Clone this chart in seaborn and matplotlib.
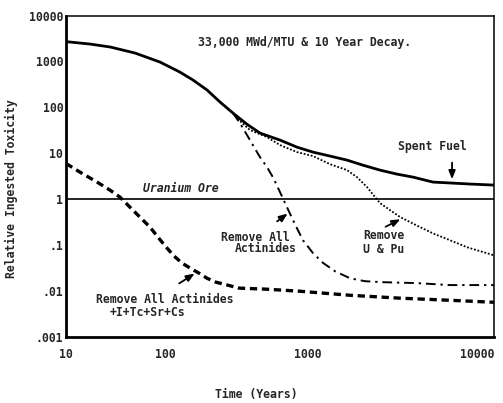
import numpy as np
import seaborn as sns
import matplotlib.pyplot as plt
from matplotlib.ticker import FixedLocator, NullLocator

# values (years, relative ingested toxicity)
spent_t = [10, 17.5, 28, 49.8, 89, 127, 157, 197, 243, 299, 374, 462, 637, 838, 1064, 1313,
           1622, 1977, 2439, 3006, 3669, 4700, 6020, 7430, 10000]
spent_v = [2700, 2390, 2060, 1524, 970, 587, 394, 238, 130, 75, 43, 27.5, 19.4, 13.6, 10.6, 8.7,
           7.1, 5.5, 4.3, 3.52, 3.03, 2.36, 2.24, 2.14, 2.03]

upu_t = [299, 318, 393, 517, 637, 838, 1064, 1313, 1622, 1833, 2076, 2439, 2760, 3126, 3810,
         4700, 5800, 7160, 10000]
upu_v = [75, 58, 32, 22.5, 15.1, 10.6, 8.7, 5.8, 4.3, 3.03, 1.84, 0.82, 0.58, 0.41, 0.273,
         0.18, 0.128, 0.090, 0.060]

act_t = [299, 334, 393, 461, 517, 569, 637, 713, 811, 922, 1064, 1205, 1397, 1683, 2023, 2530,
         3855, 5800, 10000]
act_v = [75, 45.5, 19.4, 8.3, 5.0, 3.0, 1.43, 0.67, 0.286, 0.128, 0.067, 0.041, 0.027, 0.019,
         0.0164, 0.0156, 0.0149, 0.0135, 0.0135]

fp_t = [10, 13.8, 20.6, 27.8, 35.1, 42.3, 53.3, 70.5, 85, 102, 116, 131, 150, 173, 197, 227,
        259, 329, 508, 865, 1683, 3126, 5800, 10000]
fp_v = [6.0, 3.9, 2.36, 1.58, 1.11, 0.74, 0.45, 0.247, 0.149, 0.090, 0.0575, 0.041, 0.0316,
        0.0245, 0.019, 0.0156, 0.0141, 0.0116, 0.011, 0.00995, 0.0081, 0.0070, 0.0063, 0.0057]

ore_t = [10, 10000]
ore_v = [1, 1]

x_ticks = [10, 100, 1000, 10000]
x_labels = ['10', '100', '1000', '10000']
y_ticks = [1e4, 1e3, 1e2, 10, 1, 0.1, 0.01, 0.001]
y_labels = ['10000', '1000', '100', '10', '1', '.1', '.01', '.001']

# the printed time axis has uneven decades, so map log10(t) piecewise
knots_log = [0, 1, 2, 3, 4, 6]
knots_pos = [-0.2313, 0, 0.2313, 0.5654, 1.0, 1.8692]


def fwd(x):
    x = np.clip(np.asarray(x, dtype=float), 1e-9, None)
    return np.interp(np.log10(x), knots_log, knots_pos)


def inv(u):
    return 10 ** np.interp(np.asarray(u, dtype=float), knots_pos, knots_log)


sns.set_style('white')
plt.rcParams['font.family'] = ['DejaVu Sans Mono', 'DejaVu Sans']
plt.rcParams['font.weight'] = 'bold'

fig = plt.figure(figsize=(5.03, 4.03), dpi=100)
ax = fig.add_axes([0.1312, 0.1638, 0.8509, 0.7977])
ax.set_xscale('function', functions=(fwd, inv))
ax.set_yscale('log')

sns.lineplot(x=spent_t, y=spent_v, ax=ax, color='black', lw=2.0)
sns.lineplot(x=upu_t, y=upu_v, ax=ax, color='black', lw=1.3, linestyle=(0, (1, 1)))
sns.lineplot(x=act_t, y=act_v, ax=ax, color='black', lw=1.4, linestyle=(0, (5, 2.5, 1.2, 2.5)))
sns.lineplot(x=fp_t, y=fp_v, ax=ax, color='black', lw=2.4, linestyle=(0, (2.2, 1.4)))
sns.lineplot(x=ore_t, y=ore_v, ax=ax, color='black', lw=1.2)

ax.set_xlim(10, 10000)
ax.set_ylim(0.001, 10000)
ax.xaxis.set_major_locator(FixedLocator(x_ticks))
ax.set_xticklabels(x_labels)
ax.get_xticklabels()[-1].set_ha('right')
ax.xaxis.set_minor_locator(FixedLocator([200, 1700, 6000]))
ax.yaxis.set_major_locator(FixedLocator(y_ticks))
ax.set_yticklabels(y_labels)
ax.yaxis.set_minor_locator(NullLocator())
ax.tick_params(axis='both', which='both', direction='in', length=4, width=1.3,
               labelsize=8.3, color='black')
ax.tick_params(axis='x', pad=8)
ax.tick_params(axis='y', pad=2)

for side in ['left', 'bottom']:
    ax.spines[side].set_linewidth(2.0)
for side in ['top', 'right']:
    ax.spines[side].set_linewidth(1.1)
for s in ax.spines.values():
    s.set_color('black')

ax.set_xlabel('Time (Years)', fontsize=8.3, fontweight='bold')
ax.xaxis.set_label_coords(0.444, -0.159)
ax.set_ylabel('Relative Ingested Toxicity', fontsize=8.3, fontweight='bold')
ax.yaxis.set_label_coords(-0.113, 0.462)

tkw = dict(transform=ax.transAxes, fontsize=8.3, fontweight='bold', va='center')
ax.text(0.558, 0.917, '33,000 MWd/MTU & 10 Year Decay.', ha='center', **tkw)
ax.text(0.855, 0.591, 'Spent Fuel', ha='center', **tkw)
ax.text(0.269, 0.463, 'Uranium Ore', ha='center', style='italic', **tkw)
ax.text(0.4416, 0.311, 'Remove All', ha='center', **tkw)
ax.text(0.4673, 0.274, 'Actinides', ha='center', **tkw)
ax.text(0.694, 0.317, 'Remove', ha='left', **tkw)
ax.text(0.694, 0.271, 'U & Pu', ha='left', **tkw)
ax.text(0.231, 0.118, 'Remove All Actinides', ha='center', **tkw)
ax.text(0.190, 0.0747, '+I+Tc+Sr+Cs', ha='center', **tkw)

akw = dict(arrowstyle='-|>,head_length=0.5,head_width=0.2', color='black', lw=1.3)
arrows = [((0.902, 0.551), (0.902, 0.482)),
          ((0.488, 0.3546), (0.523, 0.389)),
          ((0.741, 0.339), (0.787, 0.370)),
          ((0.259, 0.162), (0.306, 0.202))]
for tail, head in arrows:
    ax.annotate('', xy=head, xytext=tail, xycoords='axes fraction',
                textcoords='axes fraction', arrowprops=akw)

fig.savefig('out.png', dpi=100)
